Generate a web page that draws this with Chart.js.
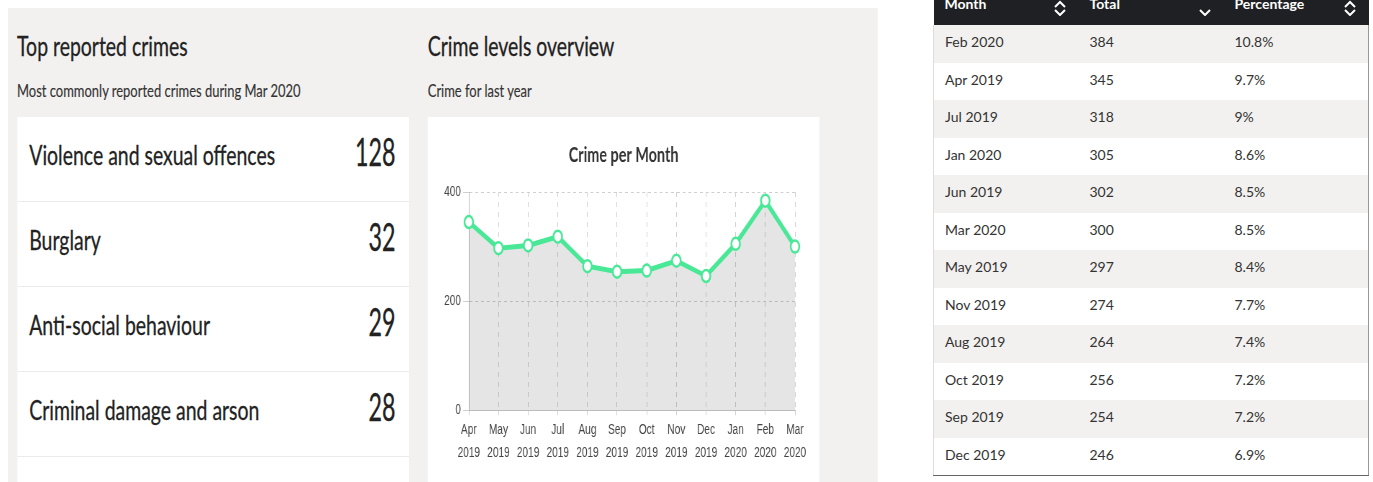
<!DOCTYPE html>
<html>
<head>
<meta charset="utf-8">
<script src="https://cdn.jsdelivr.net/npm/chart.js@4/dist/chart.umd.min.js"></script>
<style>
  html, body { margin: 0; padding: 0; background: #fff; }
  body { width: 1373px; height: 482px; overflow: hidden; position: relative; font-family: Lato, 'Noto Sans', sans-serif; }

  /* left + middle block is drawn wide then squeezed horizontally like the reference */
  #panel {
    position: absolute; left: 8px; top: 8px; width: 1208px; height: 600px;
    background: #f2f1ef; transform: scaleX(0.72); transform-origin: 0 0;
  }
  .heading { position: absolute; top: 24px; font-size: 27px; line-height: 27px; color: #222; white-space: nowrap; -webkit-text-stroke: 0.3px #222; }
  .sub { position: absolute; top: 72.5px; font-size: 18px; line-height: 18px; color: #333; white-space: nowrap; -webkit-text-stroke: 0.15px #333; }
  .card { position: absolute; top: 109px; width: 544px; height: 500px; background: #fff; }
  .row { position: relative; height: 85px; border-bottom: 1px solid #ebebeb; box-sizing: border-box; }
  .row .name { position: absolute; left: 17px; top: 24px; font-size: 27px; line-height: 27px; color: #222; white-space: nowrap; -webkit-text-stroke: 0.3px #222; }
  .row .count { position: absolute; right: 18px; top: 15px; font-size: 38px; line-height: 38px; color: #222;
                transform: scaleX(0.85); transform-origin: 100% 50%; -webkit-text-stroke: 0.3px #222; }

  /* table on the right */
  #tbl { position: absolute; left: 933px; top: -12.5px; width: 436px; border-collapse: collapse; font-size: 14px; color: #333; }
  #tbl th, #tbl td { height: 37.5px; padding: 0 0 4px 11px; text-align: left; box-sizing: border-box; width: 145px; }
  #tbl th { background: #1f2024; color: #fff; font-weight: bold; position: relative; padding-bottom: 6px; }
  #tbl tbody tr:nth-child(odd) td { background: #f2f1ef; }
  #tbl tbody tr td:first-child { border-left: 1px solid #ddd; }
  #tbl tbody tr td:last-child { border-right: 1px solid #999; }
  #tbl tbody tr:last-child td { border-bottom: 1px solid #666; }
  #tbl th svg { position: absolute; top: 12px; }
</style>
</head>
<body>

<div id="panel">
  <div class="heading" style="left:12.5px">Top reported crimes</div>
  <div class="sub" style="left:12.5px">Most commonly reported crimes during Mar 2020</div>
  <div class="card" id="crimeList" style="left:12.5px"></div>

  <div class="heading" style="left:583px">Crime levels overview</div>
  <div class="sub" style="left:583px">Crime for last year</div>
  <div class="card" style="left:583px">
    <canvas id="crimeChart" width="544" height="365"></canvas>
  </div>
</div>

<table id="tbl">
  <thead>
    <tr>
      <th>Month<svg width="14" height="16" style="left:119px" viewBox="0 0 14 16"><polyline points="2,7 7,2 12,7" fill="none" stroke="#fff" stroke-width="2"/><polyline points="2,10 7,15 12,10" fill="none" stroke="#fff" stroke-width="2"/></svg></th>
      <th>Total<svg width="14" height="16" style="left:119px" viewBox="0 0 14 16"><polyline points="2,10 7,15 12,10" fill="none" stroke="#fff" stroke-width="2"/></svg></th>
      <th>Percentage<svg width="14" height="16" style="left:119px" viewBox="0 0 14 16"><polyline points="2,7 7,2 12,7" fill="none" stroke="#fff" stroke-width="2"/><polyline points="2,10 7,15 12,10" fill="none" stroke="#fff" stroke-width="2"/></svg></th>
    </tr>
  </thead>
  <tbody id="tblBody"></tbody>
</table>

<script>
// --- データ ---
const crimeTypes = ['Violence and sexual offences', 'Burglary', 'Anti-social behaviour', 'Criminal damage and arson'];
const crimeCounts = [128, 32, 29, 28];

const monthNames = ['Apr', 'May', 'Jun', 'Jul', 'Aug', 'Sep', 'Oct', 'Nov', 'Dec', 'Jan', 'Feb', 'Mar'];
const monthYears = ['2019', '2019', '2019', '2019', '2019', '2019', '2019', '2019', '2019', '2020', '2020', '2020'];
const crimeTotals = [345, 297, 302, 318, 264, 254, 256, 274, 246, 305, 384, 300];
const yTicks = [0, 200, 400];

// --- 左のリスト ---
const listEl = document.getElementById('crimeList');
crimeTypes.forEach((name, i) => {
    const row = document.createElement('div');
    row.className = 'row';
    row.innerHTML = `<span class="name">${name}</span><span class="count">${crimeCounts[i]}</span>`;
    listEl.appendChild(row);
});
listEl.appendChild(Object.assign(document.createElement('div'), { className: 'row' }));

// --- 右の表 (合計の多い順) ---
const grandTotal = crimeTotals.reduce((a, b) => a + b, 0);
const tableBody = document.getElementById('tblBody');
crimeTotals
    .map((v, i) => ({ month: `${monthNames[i]} ${monthYears[i]}`, total: v }))
    .sort((a, b) => b.total - a.total)
    .forEach(r => {
        const pct = parseFloat((r.total / grandTotal * 100).toFixed(1));
        const tr = tableBody.insertRow();
        tr.innerHTML = `<td>${r.month}</td><td>${r.total}</td><td>${pct}%</td>`;
    });

// --- グラフ ---
Chart.defaults.font.family = "'Liberation Sans', Arial, sans-serif";
Chart.defaults.color = '#444';

new Chart(document.getElementById('crimeChart'), {
    type: 'line',
    data: {
        labels: monthNames.map((m, i) => [m, monthYears[i]]),
        datasets: [{
            data: crimeTotals,
            borderColor: '#48e897',
            borderWidth: 5,
            backgroundColor: 'rgba(0,0,0,0.1)',
            fill: 'origin',
            tension: 0,
            pointRadius: 6,
            pointBorderWidth: 2.5,
            pointBackgroundColor: '#fff',
            pointBorderColor: '#48e897'
        }]
    },
    options: {
        responsive: false,
        animation: false,
        layout: { padding: { left: 0, right: 0, top: 0, bottom: 14 } },
        plugins: {
            legend: { display: false },
            tooltip: { enabled: false },
            title: {
                display: true,
                text: 'Crime per Month',
                color: '#333',
                font: { family: 'Lato', size: 20, weight: 'bold' },
                padding: { top: 27, bottom: 24 }
            }
        },
        scales: {
            x: {
                grid: { color: '#cfcfcf', tickLength: 5 },
                border: { color: '#bbb', dash: [5, 5] },
                ticks: { font: { size: 14, lineHeight: 1.6 }, padding: 4, maxRotation: 0, autoSkip: false }
            },
            y: {
                min: 0, max: 400,
                afterBuildTicks: s => { s.ticks = yTicks.map(v => ({ value: v })); },
                afterFit: s => { s.width = 57; },
                grid: { color: '#cfcfcf', tickLength: 8 },
                border: { color: '#bbb', dash: [4, 4] },
                ticks: { font: { size: 14 }, padding: 3 }
            },
            // 右側の余白用 (表示なし)
            yRight: {
                position: 'right',
                grid: { display: false },
                border: { display: false },
                ticks: { display: false },
                afterFit: s => { s.width = 34; }
            }
        }
    }
});
</script>
</body>
</html>
